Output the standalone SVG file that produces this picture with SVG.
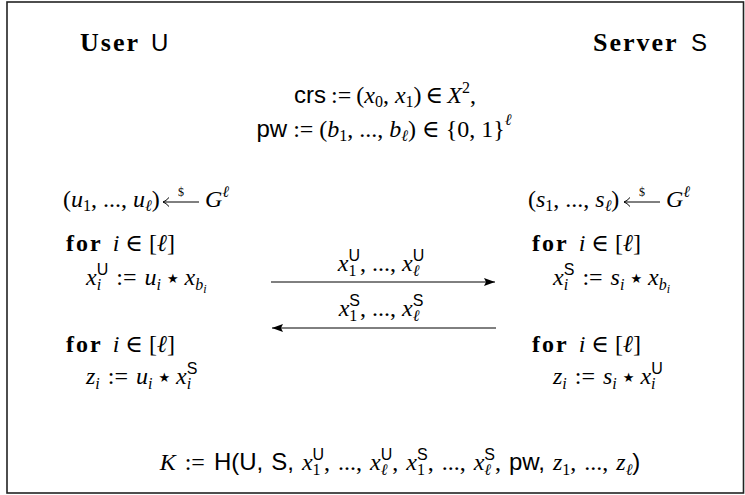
<svg xmlns="http://www.w3.org/2000/svg" width="745" height="495" viewBox="0 0 745 495">
<style>
text{font-family:"Liberation Serif","DejaVu Serif",serif;font-size:24px;fill:#000}
.i{font-style:italic}
.b{font-weight:bold;letter-spacing:2px}
.sf{font-family:"Liberation Sans","DejaVu Sans",sans-serif;font-style:normal}
.sm{font-size:16px}
.ss{font-size:12px}
.st{font-family:"DejaVu Sans",sans-serif;font-size:13px;font-style:normal}
.ln{stroke:#000;stroke-width:1;fill:none}
.hd{font-weight:bold;font-size:26px;letter-spacing:2px}
.dl{font-size:12px}
</style>
<defs>
<marker id="ah" markerWidth="11" markerHeight="8" refX="11" refY="4" orient="auto" markerUnits="userSpaceOnUse"><path d="M0,0 L11,4 L0,8 L2,4 Z" fill="#000"/></marker>
</defs>
<rect x="0" y="0" width="745" height="495" fill="#fff"/>
<rect x="7" y="2" width="736.5" height="491" fill="none" stroke="#222" stroke-width="1.6"/>

<g id="user">
<text x="80" y="51" class="hd">User</text>
<text x="151" y="51" class="sf">U</text>
<text x="63" y="207">(<tspan class="i">u</tspan><tspan class="sm" dy="4">1</tspan><tspan dy="-4">, ..., </tspan><tspan class="i">u</tspan><tspan class="sm i" dy="4">ℓ</tspan><tspan dy="-4">)</tspan></text>
<path class="ln" d="M199,202 H163 M169,197.5 Q166,201 163,202 Q166,203 169,206.5"/>
<text x="181" y="196" class="dl" text-anchor="middle">$</text>
<text x="205" y="207"><tspan class="i">G</tspan><tspan class="sm i" dy="-10">ℓ</tspan></text>
<text x="66" y="251"><tspan class="b">for</tspan><tspan class="i" dx="10">i</tspan><tspan dx="6">∈</tspan><tspan dx="6">[</tspan><tspan class="i">ℓ</tspan>]</text>
<text x="86" y="285"><tspan class="i">x</tspan><tspan class="sm i" dy="5">i</tspan><tspan class="sm sf" dx="-4.4" dy="-15">U</tspan><tspan dx="8" dy="10">:=</tspan><tspan class="i" dx="8">u</tspan><tspan class="sm i" dy="5">i</tspan><tspan class="st" dx="6" dy="-7">★</tspan><tspan class="i" dx="6" dy="2">x</tspan><tspan class="sm i" dy="5">b</tspan><tspan class="ss i" dy="3">i</tspan></text>
<text x="66" y="352"><tspan class="b">for</tspan><tspan class="i" dx="10">i</tspan><tspan dx="6">∈</tspan><tspan dx="6">[</tspan><tspan class="i">ℓ</tspan>]</text>
<text x="86" y="384"><tspan class="i">z</tspan><tspan class="sm i" dy="5">i</tspan><tspan dx="8" dy="-5">:=</tspan><tspan class="i" dx="8">u</tspan><tspan class="sm i" dy="5">i</tspan><tspan class="st" dx="6" dy="-7">★</tspan><tspan class="i" dx="6" dy="2">x</tspan><tspan class="sm i" dy="5">i</tspan><tspan class="sm sf" dx="-4.4" dy="-15">S</tspan></text>
</g>

<g id="server">
<text x="593" y="51" class="hd">Server</text>
<text x="691" y="51" class="sf">S</text>
<text x="528" y="207">(<tspan class="i">s</tspan><tspan class="sm" dy="4">1</tspan><tspan dy="-4">, ..., </tspan><tspan class="i">s</tspan><tspan class="sm i" dy="4">ℓ</tspan><tspan dy="-4">)</tspan></text>
<path class="ln" d="M660,202 H624 M630,197.5 Q627,201 624,202 Q627,203 630,206.5"/>
<text x="642" y="196" class="dl" text-anchor="middle">$</text>
<text x="666" y="207"><tspan class="i">G</tspan><tspan class="sm i" dy="-10">ℓ</tspan></text>
<text x="532" y="251"><tspan class="b">for</tspan><tspan class="i" dx="10">i</tspan><tspan dx="6">∈</tspan><tspan dx="6">[</tspan><tspan class="i">ℓ</tspan>]</text>
<text x="553" y="285"><tspan class="i">x</tspan><tspan class="sm i" dy="5">i</tspan><tspan class="sm sf" dx="-4.4" dy="-15">S</tspan><tspan dx="8" dy="10">:=</tspan><tspan class="i" dx="8">s</tspan><tspan class="sm i" dy="5">i</tspan><tspan class="st" dx="6" dy="-7">★</tspan><tspan class="i" dx="6" dy="2">x</tspan><tspan class="sm i" dy="5">b</tspan><tspan class="ss i" dy="3">i</tspan></text>
<text x="532" y="352"><tspan class="b">for</tspan><tspan class="i" dx="10">i</tspan><tspan dx="6">∈</tspan><tspan dx="6">[</tspan><tspan class="i">ℓ</tspan>]</text>
<text x="553" y="384"><tspan class="i">z</tspan><tspan class="sm i" dy="5">i</tspan><tspan dx="8" dy="-5">:=</tspan><tspan class="i" dx="8">s</tspan><tspan class="sm i" dy="5">i</tspan><tspan class="st" dx="6" dy="-7">★</tspan><tspan class="i" dx="6" dy="2">x</tspan><tspan class="sm i" dy="5">i</tspan><tspan class="sm sf" dx="-4.4" dy="-15">U</tspan></text>
</g>

<g id="setup">
<text x="385" y="103" text-anchor="middle"><tspan class="sf">crs</tspan><tspan dx="5">:=</tspan><tspan dx="5">(</tspan><tspan class="i">x</tspan><tspan class="sm" dy="4">0</tspan><tspan dy="-4">, </tspan><tspan class="i">x</tspan><tspan class="sm" dy="4">1</tspan><tspan dy="-4">)</tspan><tspan dx="4">∈</tspan><tspan class="i" dx="4">X</tspan><tspan class="sm" dy="-10">2</tspan><tspan dy="10">,</tspan></text>
<text x="384" y="137" text-anchor="middle"><tspan class="sf">pw</tspan><tspan dx="6">:=</tspan><tspan dx="6">(</tspan><tspan class="i">b</tspan><tspan class="sm" dy="4">1</tspan><tspan dy="-4">, ..., </tspan><tspan class="i">b</tspan><tspan class="sm i" dy="4">ℓ</tspan><tspan dy="-4">)</tspan><tspan dx="6">∈</tspan><tspan dx="6">{0, 1}</tspan><tspan class="sm i" dy="-12">ℓ</tspan></text>
</g>

<g id="connectors">
<line class="ln" x1="271" y1="282" x2="495" y2="282" marker-end="url(#ah)"/>
<line class="ln" x1="496" y1="328" x2="272" y2="328" marker-end="url(#ah)"/>
<text x="381" y="271" text-anchor="middle"><tspan class="i">x</tspan><tspan class="sm" dy="5">1</tspan><tspan class="sm sf" dx="-8" dy="-15">U</tspan><tspan dy="10">, ..., </tspan><tspan class="i">x</tspan><tspan class="sm i" dy="5">ℓ</tspan><tspan class="sm sf" dx="-6.7" dy="-15">U</tspan></text>
<text x="381" y="316" text-anchor="middle"><tspan class="i">x</tspan><tspan class="sm" dy="5">1</tspan><tspan class="sm sf" dx="-8" dy="-15">S</tspan><tspan dy="10">, ..., </tspan><tspan class="i">x</tspan><tspan class="sm i" dy="5">ℓ</tspan><tspan class="sm sf" dx="-6.7" dy="-15">S</tspan></text>
</g>

<g id="final">
<text x="400" y="470" text-anchor="middle"><tspan class="i">K</tspan><tspan dx="9">:=</tspan><tspan class="sf" dx="9">H(U,</tspan><tspan class="sf" dx="8">S,</tspan><tspan class="i" dx="8">x</tspan><tspan class="sm" dy="5">1</tspan><tspan class="sm sf" dx="-8" dy="-15">U</tspan><tspan dy="10">,</tspan><tspan dx="8">...,</tspan><tspan class="i" dx="8">x</tspan><tspan class="sm i" dy="5">ℓ</tspan><tspan class="sm sf" dx="-6.7" dy="-15">U</tspan><tspan dy="10">,</tspan><tspan class="i" dx="8">x</tspan><tspan class="sm" dy="5">1</tspan><tspan class="sm sf" dx="-8" dy="-15">S</tspan><tspan dy="10">,</tspan><tspan dx="8">...,</tspan><tspan class="i" dx="8">x</tspan><tspan class="sm i" dy="5">ℓ</tspan><tspan class="sm sf" dx="-6.7" dy="-15">S</tspan><tspan dy="10">,</tspan><tspan class="sf" dx="8">pw,</tspan><tspan class="i" dx="8">z</tspan><tspan class="sm" dy="5">1</tspan><tspan dy="-5">,</tspan><tspan dx="8">...,</tspan><tspan class="i" dx="8">z</tspan><tspan class="sm i" dy="5">ℓ</tspan><tspan class="sf" dy="-5">)</tspan></text>
</g>
</svg>
